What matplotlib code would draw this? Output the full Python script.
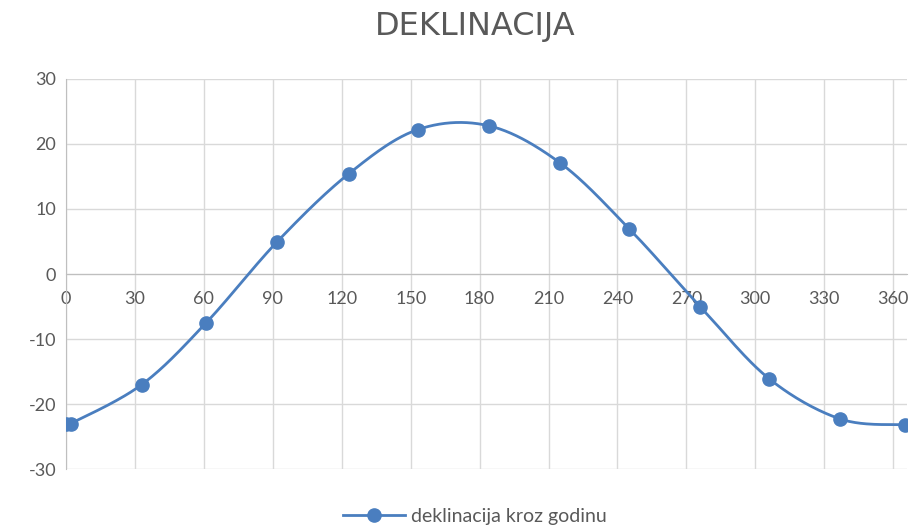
import numpy as np
import matplotlib
matplotlib.use("Agg")
import matplotlib.pyplot as plt

# day of year vs. solar declination (deg)
days = [0, 2, 33, 61, 92, 123, 153, 184, 215, 245, 276, 306, 337, 365]
declination = [-23.0, -23.0, -17.0, -7.5, 5.0, 15.4, 22.2, 22.8, 17.1, 7.0, -5.0, -16.1, -22.3, -23.2]
x_ticks = list(range(0, 361, 30))
y_ticks = list(range(-30, 31, 10))

title = "DEKLINACIJA"
series_label = "deklinacija kroz godinu"

blue = "#4a7ebf"
grid_c = "#d9d9d9"
text_c = "#595959"


def excel_smooth(x, y, n=40):
    # bezier smoothing like the spreadsheet "smoothed line" option
    p = np.column_stack([x, y]).astype(float)
    pts = np.vstack([p[0], p, p[-1]])
    out = []
    t = np.linspace(0, 1, n)[:, None]
    for i in range(1, len(pts) - 2):
        p0, p1, p2, p3 = pts[i - 1], pts[i], pts[i + 1], pts[i + 2]
        c1 = p1 + (p2 - p0) / 6
        c2 = p2 - (p3 - p1) / 6
        seg = ((1 - t) ** 3) * p1 + 3 * ((1 - t) ** 2) * t * c1 + 3 * (1 - t) * t ** 2 * c2 + t ** 3 * p2
        out.append(seg)
    curve = np.vstack(out)
    return curve[:, 0], curve[:, 1]


plt.rcParams['font.family'] = ['Lato', 'DejaVu Sans']
plt.rcParams['axes.unicode_minus'] = False

fig = plt.figure(figsize=(9.17, 5.30), dpi=100)
ax = fig.add_axes([0.072, 0.115, 0.917, 0.736])

sx, sy = excel_smooth(days, declination)
ax.plot(sx, sy, color=blue, linewidth=2.0, zorder=3, solid_capstyle="round")
ax.plot(days, declination, linestyle="none", marker="o", markersize=9.5,
        color=blue, zorder=4)

ax.set_xlim(0, 366)
ax.set_ylim(-30, 30)
ax.set_xticks(x_ticks)
ax.set_yticks(y_ticks)

ax.grid(True, color=grid_c, linewidth=1.0, zorder=0)
for s in ["top", "right"]:
    ax.spines[s].set_visible(False)
ax.spines["bottom"].set_position(("data", 0))
ax.spines["bottom"].set_color("#bfbfbf")
ax.spines["left"].set_color("#bfbfbf")
ax.tick_params(axis="x", length=0, pad=12, labelsize=13, labelcolor=text_c)
ax.tick_params(axis="y", length=0, pad=7, labelsize=13, labelcolor=text_c)

fig.text(0.518, 0.95, title, ha="center", va="center", fontsize=23,
         color=text_c, family=['Liberation Sans Narrow', 'DejaVu Sans'])

handle, = ax.plot([], [], color=blue, linewidth=2.0, marker="o", markersize=9.5)
fig.legend([handle], [series_label], loc="center", bbox_to_anchor=(0.518, 0.025),
           frameon=False, fontsize=14, labelcolor=text_c, handlelength=3.2,
           handletextpad=0.3)

fig.savefig("out.png", dpi=100)
